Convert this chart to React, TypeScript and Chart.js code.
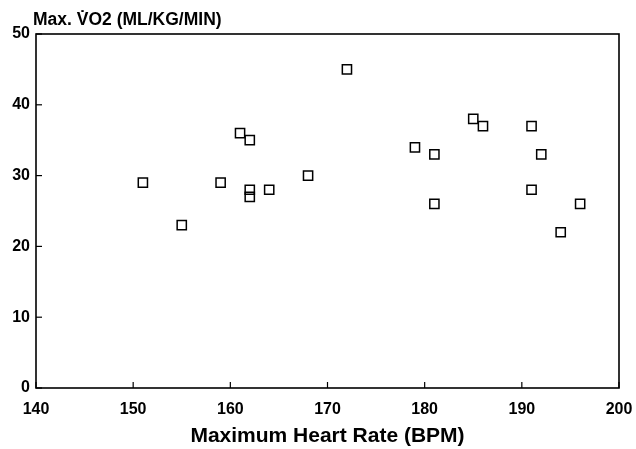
import React, { useEffect, useRef } from "react";
import { Chart, registerables } from "chart.js";

Chart.register(...registerables);

const heartRate = [151, 155, 159, 161, 162, 162, 162, 164, 168, 172, 179, 181, 181, 185, 186, 191, 191, 192, 194, 196];
const vo2Max = [29, 23, 29, 36, 35, 28, 27, 28, 30, 45, 34, 33, 26, 38, 37, 37, 28, 33, 22, 26];
const xTitle = "Maximum Heart Rate (BPM)";
const yTitle = "Max. V\u0307O2 (ML/KG/MIN)";

const FONT = "'Liberation Sans', Arial, Helvetica, sans-serif";

const framePlugin = {
  id: "frameAndTicks",
  afterDraw(chart: any) {
    const { ctx, chartArea } = chart;
    const { left, right, top, bottom } = chartArea;
    ctx.save();
    ctx.strokeStyle = "#000";
    ctx.lineWidth = 1.6;
    ctx.strokeRect(left, top, right - left, bottom - top);
    ctx.lineWidth = 1.2;
    const xs = chart.scales.x;
    xs.ticks.forEach((t: any) => {
      const px = xs.getPixelForValue(t.value);
      ctx.beginPath();
      ctx.moveTo(px, bottom);
      ctx.lineTo(px, bottom - 6);
      ctx.stroke();
    });
    const ys = chart.scales.y;
    ys.ticks.forEach((t: any) => {
      const py = ys.getPixelForValue(t.value);
      ctx.beginPath();
      ctx.moveTo(left, py);
      ctx.lineTo(left + 6, py);
      ctx.stroke();
    });
    ctx.fillStyle = "#000";
    ctx.font = `bold 17.5px ${FONT}`;
    ctx.textAlign = "left";
    ctx.textBaseline = "alphabetic";
    ctx.fillText(yTitle, left - 3, top - 9);
    ctx.restore();
  },
};

export default function App() {
  const ref = useRef<HTMLCanvasElement | null>(null);
  useEffect(() => {
    if (!ref.current) return;
    const chart = new Chart(ref.current, {
      type: "scatter",
      data: {
        datasets: [
          {
            data: heartRate.map((x, i) => ({ x, y: vo2Max[i] })),
            pointStyle: "rect",
            pointRadius: 6.5,
            pointHoverRadius: 6.5,
            borderColor: "#000",
            backgroundColor: "rgba(0,0,0,0)",
            borderWidth: 1.5,
          },
        ],
      },
      options: {
        responsive: false,
        animation: false,
        devicePixelRatio: 1,
        layout: { padding: { top: 34, right: 17, left: 0, bottom: 0 } },
        plugins: { legend: { display: false }, tooltip: { enabled: false }, title: { display: false } },
        scales: {
          x: {
            type: "linear",
            min: 140,
            max: 200,
            border: { display: false },
            grid: { display: false, drawTicks: false },
            ticks: { stepSize: 10, color: "#000", padding: 12, font: { family: FONT, size: 16, weight: "bold" } },
            title: {
              display: true,
              text: xTitle,
              color: "#000",
              padding: { top: 0, bottom: 0 },
              font: { family: FONT, size: 21, weight: "bold" },
            },
            afterFit(scale: any) {
              scale.height = 61;
              scale.paddingRight = 0;
              scale.paddingLeft = 0;
            },
          },
          y: {
            type: "linear",
            min: 0,
            max: 50,
            border: { display: false },
            grid: { display: false, drawTicks: false },
            ticks: { stepSize: 10, color: "#000", padding: 6, font: { family: FONT, size: 16, weight: "bold" } },
            afterFit(scale: any) {
              scale.width = 36;
              scale.paddingTop = 0;
              scale.paddingBottom = 0;
            },
          },
        },
      },
      plugins: [framePlugin],
    });
    return () => chart.destroy();
  }, []);
  return (
    <div style={{ position: "fixed", left: 0, top: 0, width: 636, height: 449, background: "#fff" }}>
      <canvas ref={ref} width={636} height={449} style={{ display: "block" }} />
    </div>
  );
}
